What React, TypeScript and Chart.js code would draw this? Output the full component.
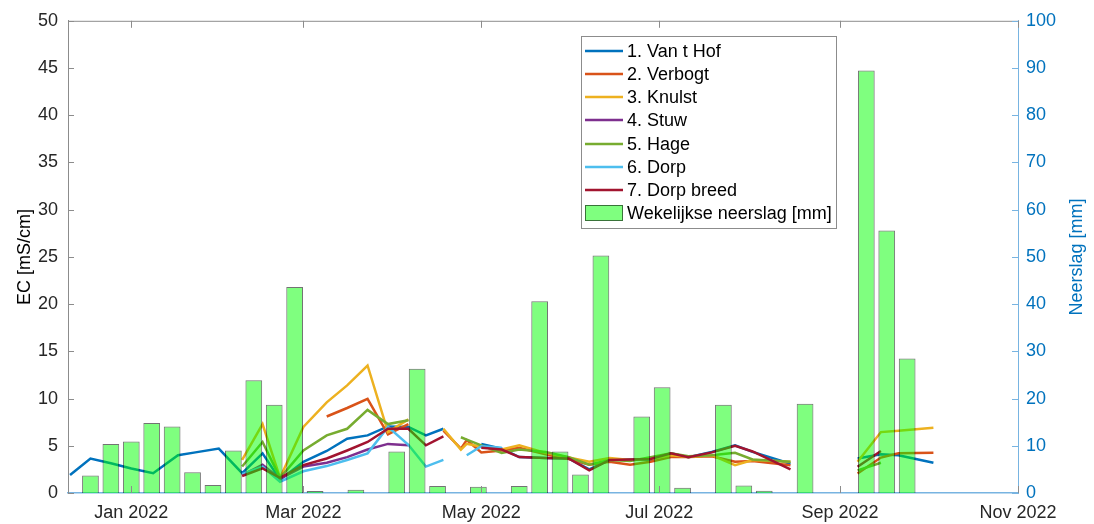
import React, { useEffect, useRef } from "react";
import { Chart, registerables } from "chart.js";
Chart.register(...registerables);

// Days relative to 1 Jan 2022
const days = [-21, -14, -7, 0, 7.5, 16, 22, 30, 38, 45, 51, 59, 67, 74, 81, 88, 95, 101, 107, 113, 115, 120, 127, 133, 142, 150, 157, 164, 171, 178, 185, 191, 199, 207, 213, 226, 238, 249, 257, 263, 275];
const N = null;
const vanTHof = [1.9, 3.65, 3.15, 2.6, 2.1, 4.0, 4.3, 4.7, 2.1, 4.2, 1.4, 3.3, 4.45, 5.75, 6.1, 7.05, 7.0, 6.1, 6.8, N, N, 5.2, 4.7, 3.8, 3.7, 3.65, 2.5, 3.5, 3.55, 3.5, 4.2, 3.8, 4.35, 5.05, 4.35, 3.1, N, 3.65, 4.1, 4.0, 3.2];
const verbogt = [N, N, N, N, N, N, N, N, N, N, N, N, 8.1, 9.0, 9.97, 6.2, 7.3, N, 6.6, 4.7, 5.6, 4.3, 4.5, 4.8, 4.1, 3.6, 3.0, 3.3, 3.0, 3.3, 3.8, 3.8, 3.9, 3.3, 3.4, 2.95, N, 2.07, 3.75, 4.2, 4.25];
const knulst = [N, N, N, N, N, N, N, N, 3.5, 7.3, 1.6, 7.0, 9.6, 11.4, 13.5, 6.45, 7.8, N, 6.8, 4.6, 5.2, 4.9, 4.6, 5.05, 4.25, 3.75, 3.3, 3.7, 3.5, 3.6, 4.0, 3.8, 4.0, 2.95, 3.5, 3.3, N, 3.3, 6.45, 6.6, 6.9];
const stuw = [N, N, N, N, N, N, N, N, 1.9, 3.0, 1.5, 2.8, 3.2, 3.8, 4.6, 5.2, 5.05, N, N, N, N, N, N, N, N, N, N, N, N, N, N, N, N, N, N, N, N, N, N, N, N];
const hage = [N, N, N, N, N, N, N, N, 2.8, 5.4, 1.6, 4.5, 6.1, 6.8, 8.8, 7.3, 7.7, N, N, 5.9, 5.65, 5.05, 4.25, 4.6, 4.35, 3.8, 3.0, 3.5, 3.4, 3.8, 4.2, 3.9, 4.0, 4.25, 3.55, 3.3, N, 2.4, 3.2, N, N];
const dorp = [N, N, N, N, N, N, N, N, 2.0, 2.8, 1.2, 2.3, 2.85, 3.5, 4.2, 7.0, 5.1, 2.8, 3.5, N, 4.0, 4.95, 4.8, N, N, N, N, N, N, N, N, N, N, N, N, N, N, N, N, N, N];
const dorpBreed = [N, N, N, N, N, N, N, N, 1.8, 2.6, 1.6, 2.95, 3.65, 4.5, 5.4, 6.8, 6.8, 5.05, 6.0, N, N, 4.8, 4.6, 3.8, 3.7, 3.65, 2.4, 3.5, 3.55, 3.6, 4.2, 3.8, 4.3, 5.0, 4.4, 2.5, N, 2.77, 4.45, N, N];

const seriesNames = ["1. Van t Hof", "2. Verbogt", "3. Knulst", "4. Stuw", "5. Hage", "6. Dorp", "7. Dorp breed"];
const seriesValues = [vanTHof, verbogt, knulst, stuw, hage, dorp, dorpBreed];
const seriesColors = ["#0072BD", "#D95319", "#EDB120", "#7E2F8E", "#77AC30", "#4DBEEE", "#A2142F"];

const rainDays = [-14, -7, 0, 7, 14, 21, 28, 35, 42, 49, 56, 63, 70, 77, 84, 91, 98, 105, 112, 119, 126, 133, 140, 147, 154, 161, 168, 175, 182, 189, 196, 203, 210, 217, 224, 231, 238, 245, 252, 259, 266];
const rainMm = [3.7, 10.4, 10.9, 14.8, 14.1, 4.4, 1.7, 9.0, 23.9, 18.7, 43.6, 0.4, 0, 0.7, 0, 8.8, 26.3, 1.5, 0, 1.3, 0, 1.5, 40.6, 8.8, 3.9, 50.3, 0, 16.2, 22.4, 1.1, 0, 18.7, 1.6, 0.5, 0, 18.9, 0, 0, 89.5, 55.6, 28.5];
const rainLabel = "Wekelijkse neerslag [mm]";

const xTickDays = [0, 59, 120, 181, 243, 304];
const xTickLabels = ["Jan 2022", "Mar 2022", "May 2022", "Jul 2022", "Sep 2022", "Nov 2022"];
const ecTitle = "EC [mS/cm]";
const rainTitle = "Neerslag [mm]";

const FONT = '"Liberation Sans", Arial, Helvetica, sans-serif';
const FS = 18;
const BLUE = "rgb(0,114,189)";
const AXIS_BLUE = "rgb(120,180,225)";
const GREY = "rgb(140,140,140)";
const TEXT = "#262626";
const BAR_FILL = "rgba(0,255,0,0.5)";
const BAR_EDGE = "rgba(0,0,0,0.55)";

const overlay = {
  id: "overlay",
  afterDraw(chart: any) {
    const { ctx, chartArea: a, scales } = chart;
    ctx.save();
    const seg = (x1: number, y1: number, x2: number, y2: number, c: string, w = 1) => {
      ctx.strokeStyle = c;
      ctx.lineWidth = w;
      ctx.beginPath();
      ctx.moveTo(x1, y1);
      ctx.lineTo(x2, y2);
      ctx.stroke();
    };
    seg(a.left, a.top + 0.5, a.right, a.top + 0.5, GREY);
    scales.y.ticks.forEach((t: any) => {
      const py = Math.round(scales.y.getPixelForValue(t.value)) + 0.5;
      seg(a.left, py, a.left + 6, py, GREY);
    });
    scales.y2.ticks.forEach((t: any) => {
      const py = Math.round(scales.y2.getPixelForValue(t.value)) + 0.5;
      seg(a.right - 6, py, a.right, py, AXIS_BLUE);
    });
    scales.x.ticks.forEach((t: any) => {
      const px = Math.round(scales.x.getPixelForValue(t.value)) + 0.5;
      seg(px, a.bottom, px, a.bottom - 7, GREY);
      seg(px, a.top, px, a.top + 7, GREY);
    });
    ctx.font = `${FS}px ${FONT}`;
    ctx.textAlign = "center";
    ctx.textBaseline = "middle";
    ctx.fillStyle = "#000";
    ctx.save();
    ctx.translate(25, (a.top + a.bottom) / 2);
    ctx.rotate(-Math.PI / 2);
    ctx.fillText(ecTitle, 0, 0);
    ctx.restore();
    ctx.save();
    ctx.fillStyle = BLUE;
    ctx.translate(1077, (a.top + a.bottom) / 2);
    ctx.rotate(-Math.PI / 2);
    ctx.fillText(rainTitle, 0, 0);
    ctx.restore();
    // legend
    const lx = 581, ly = 36, lw = 255, lh = 192;
    ctx.fillStyle = "#fff";
    ctx.fillRect(lx, ly, lw, lh);
    ctx.strokeStyle = GREY;
    ctx.lineWidth = 1;
    ctx.strokeRect(lx + 0.5, ly + 0.5, lw, lh);
    ctx.textAlign = "left";
    ctx.textBaseline = "middle";
    const rowH = 23.2;
    const y0 = 50.7;
    seriesNames.forEach((name, i) => {
      const yy = Math.round(y0 + rowH * i);
      seg(585, yy, 623, yy, seriesColors[i], 2.5);
      ctx.fillStyle = "#000";
      ctx.fillText(name, 627, yy + 1);
    });
    const yb = Math.round(y0 + rowH * 7);
    ctx.fillStyle = BAR_FILL;
    ctx.fillRect(585, yb - 8, 38, 16);
    ctx.strokeStyle = BAR_EDGE;
    ctx.lineWidth = 1;
    ctx.strokeRect(585.5, yb - 7.5, 37, 15);
    ctx.fillStyle = "#000";
    ctx.fillText(rainLabel, 627, yb + 1);
    ctx.restore();
  },
};

export default function App() {
  const ref = useRef<HTMLCanvasElement | null>(null);
  useEffect(() => {
    document.body.style.margin = "0";
    const canvas = ref.current;
    if (!canvas) return;
    const lineSets = seriesValues.map((vals, i) => ({
      type: "line" as const,
      label: seriesNames[i],
      data: days.map((d, j) => ({ x: d, y: vals[j] })),
      borderColor: seriesColors[i],
      backgroundColor: seriesColors[i],
      borderWidth: 2.5,
      pointRadius: 0,
      tension: 0,
      spanGaps: false,
      yAxisID: "y",
      order: 10 - i,
    }));
    const barSet = {
      type: "bar" as const,
      label: rainLabel,
      data: rainDays.map((d, j) => ({ x: d, y: rainMm[j] })),
      backgroundColor: BAR_FILL,
      borderColor: BAR_EDGE,
      borderWidth: 1,
      barPercentage: 1,
      categoryPercentage: 0.82,
      yAxisID: "y2",
      order: 0,
    };
    const chart = new Chart(canvas, {
      type: "line",
      data: { datasets: [...lineSets, barSet] as any },
      options: {
        animation: false,
        responsive: false,
        layout: { padding: { top: 18, left: 0, right: 0, bottom: 0 } },
        plugins: { legend: { display: false }, tooltip: { enabled: false } },
        scales: {
          x: {
            type: "linear",
            min: -21.7,
            max: 304,
            offset: false,
            grid: { display: false, drawTicks: false },
            border: { display: true, color: AXIS_BLUE, width: 1.5 },
            afterBuildTicks: (s: any) => {
              s.ticks = xTickDays.map((v) => ({ value: v }));
            },
            afterFit: (s: any) => {
              s.height = 31;
            },
            ticks: {
              autoSkip: false,
              maxRotation: 0,
              padding: 9,
              color: TEXT,
              font: { family: FONT, size: FS },
              callback: (v: any) => {
                const i = xTickDays.indexOf(Number(v));
                return i >= 0 ? xTickLabels[i] : "";
              },
            },
          },
          y: {
            type: "linear",
            position: "left",
            min: 0,
            max: 50,
            grid: { display: false, drawTicks: false },
            border: { display: true, color: GREY, width: 1 },
            afterFit: (s: any) => {
              s.width = 68;
            },
            ticks: { stepSize: 5, padding: 10, color: TEXT, font: { family: FONT, size: FS } },
          },
          y2: {
            type: "linear",
            position: "right",
            min: 0,
            max: 100,
            grid: { display: false, drawTicks: false },
            border: { display: true, color: AXIS_BLUE, width: 1 },
            afterFit: (s: any) => {
              s.width = 76;
            },
            ticks: { stepSize: 10, padding: 8, color: BLUE, font: { family: FONT, size: FS } },
          },
        },
      },
      plugins: [overlay],
    });
    return () => chart.destroy();
  }, []);
  return (
    <div style={{ width: 1094, height: 524, background: "#fff" }}>
      <canvas ref={ref} width={1094} height={524} style={{ display: "block" }} />
    </div>
  );
}
